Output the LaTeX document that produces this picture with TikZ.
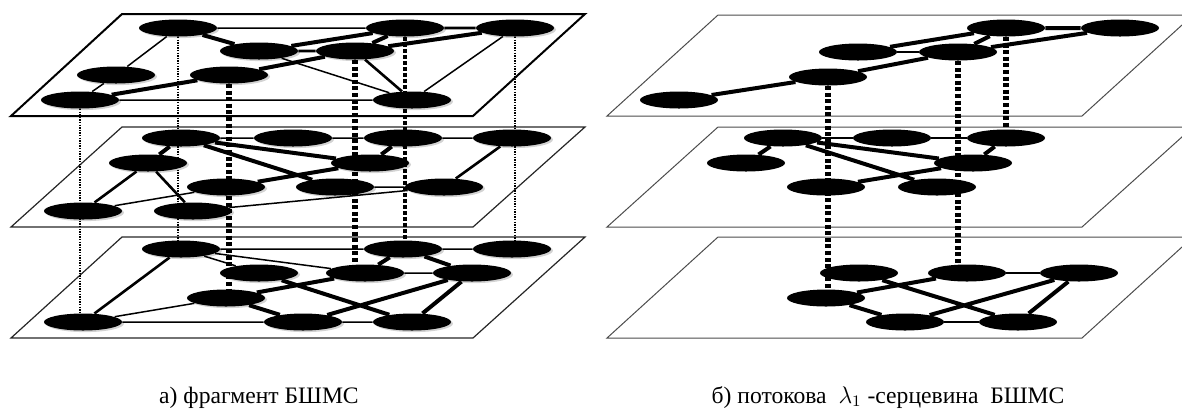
\documentclass[tikz,border=0pt]{standalone}
\usepackage{fontspec}
\setmainfont{Liberation Serif}
\usetikzlibrary{shapes.geometric,shadows}
\begin{document}
\begin{tikzpicture}
      [x=.5pt,y=-.5pt
      ,plnbold/.style={color=black,line width=1pt}
      ,pln/.style={color=black!85,line width=.6pt}
      ,plnr/.style={color=black!70,line width=.5pt}
      ,nd/.style={ellipse,fill=black,minimum width=39pt,minimum height=8.5pt,inner sep=0pt}
      ,ndsh/.style={nd,drop shadow={shadow xshift=1pt,shadow yshift=-.8pt,opacity=.35}}
      ,lnthin/.style={line width=.75pt}
      ,lnmed/.style={line width=1.3pt}
      ,lnthick/.style={line width=2pt}
      ,dotv/.style={line width=1.3pt,dash pattern=on .7pt off .6pt}
      ,dashv/.style={line width=2.7pt,dash pattern=on 2pt off 1.3pt}
      ,dashw/.style={line width=2.2pt,dash pattern=on 1.8pt off 1.2pt}
      ,captxt/.style={anchor=base,font=\fontsize{11.8}{14}\selectfont}
      ]
        \clip (0,0) rectangle (1182,409);
        \draw[plnbold] (11,116) -- (473,116) -- (585,14) -- (122,14) -- cycle;
        \draw[pln] (11,227) -- (473,227) -- (585,127) -- (122,127) -- cycle;
        \draw[pln] (11,338) -- (473,338) -- (585,237) -- (122,237) -- cycle;
        \draw[plnr] (607,116) -- (1082,116) -- (1193,15) -- (718,15) -- cycle;
        \draw[plnr] (607,227) -- (1082,227) -- (1193,127) -- (718,127) -- cycle;
        \draw[plnr] (607,338) -- (1082,338) -- (1193,237) -- (718,237) -- cycle;
        \foreach \n/\x/\y in {T1/178/28,T2/405/28,T3/515/28,T4/259/51,T5/355/51,
                              T6/116/75,T7/229/75,T8/80/100,T9/412/100,
                              M1/181/138,M2/293/138,M3/403/138,M4/512/138,M5/148/163,M6/370/163,
                              M7/226/187,M8/335/187,M9/444/187,M10/83/211,M11/193/211,
                              B1/181/249,B2/403/249,B3/512/249,B4/259/273,B5/365/273,
                              B6/472/273,B7/226/298,B8/83/322,B9/303/322,B10/412/322}
          \node[ndsh] (\n) at (\x,\y) {};
        \foreach \n/\x/\y in {R1/1006/28,R2/1120/28,R3/858/52,R4/958/52,R5/828/77,R6/679/100,
                              S1/783/138,S2/892/138,S3/1006/138,S4/746/163,S5/973/163,
                              S6/826/187,S7/937/187,
                              Q1/859/273,Q2/967/273,Q3/1079/273,Q4/826/298,Q5/905/322,Q6/1018/322}
          \node[nd] (\n) at (\x,\y) {};
        \draw[lnthin] (T1) -- (T2) (T6) -- (T1) (T8) -- (T6) (T8) -- (T9) (T4) -- (T9) (T9) -- (T3);
        \draw[lnmed] (T4) -- (T5) (T5) -- (T9) (T2) -- (T3);
        \draw[lnthick] (T1) -- (T4) (T4) -- (T2) (T5) -- (T2) (T5) -- (T3) (T7) -- (T5) (T8) -- (T7);
        \draw[lnthin] (M1) -- (M2) (M2) -- (M3) (M3) -- (M4) (M8) -- (M9) (M10) -- (M7) (M11) -- (M9);
        \draw[lnmed] (M5) -- (M10) (M5) -- (M11) (M9) -- (M4);
        \draw[lnthick] (M1) -- (M5) (M1) -- (M6) (M1) -- (M8) (M3) -- (M6) (M6) -- (M7);
        \draw[lnthin] (B1) -- (B2) (B2) -- (B3) (B1) -- (B4) (B1) -- (B5) (B5) -- (B6)
                      (B7) -- (B8) (B8) -- (B9) (B9) -- (B10);
        \draw[lnmed] (B1) -- (B8);
        \draw[lnthick] (B2) -- (B5) (B2) -- (B6) (B5) -- (B7) (B4) -- (B10) (B6) -- (B9)
                       (B6) -- (B10) (B7) -- (B9);
        \draw[dotv] (T8) -- (T8 |- B8.north);
        \draw[dotv] (T1) -- (T1 |- B1.north);
        \draw[dotv] (T3) -- (T3 |- B3.north);
        \draw[dashv] (T7) -- (T7 |- B7.north);
        \draw[dashv] (T5) -- (T5 |- B5.north);
        \draw[dashw] (T2) -- (T2 |- B2.north);
        \draw[lnthin] (R3) -- (R4);
        \draw[lnthick] (R1) -- (R2) (R3) -- (R1) (R4) -- (R1) (R4) -- (R2) (R5) -- (R4) (R6) -- (R5);
        \draw[lnthin] (S1) -- (S2) (S2) -- (S3);
        \draw[lnthick] (S1) -- (S4) (S1) -- (S5) (S1) -- (S7) (S3) -- (S5) (S6) -- (S5);
        \draw[lnthin] (Q2) -- (Q3) (Q5) -- (Q6);
        \draw[lnthick] (Q4) -- (Q2) (Q1) -- (Q6) (Q3) -- (Q5) (Q3) -- (Q6) (Q4) -- (Q5);
        \draw[dashv] (R5) -- (R5 |- Q4.north);
        \draw[dashv] (R4) -- (R4 |- Q2.north);
        \draw[dashv] (R1) -- (R1 |- S3.north);
        \node[captxt] (capa) at (259,403) {а) фрагмент БШМС};
        \node[captxt] (capb) at (888,403) {б) потокова\ \ $\lambda_1$ -серцевина\ \ БШМС};
      \end{tikzpicture}
\end{document}
